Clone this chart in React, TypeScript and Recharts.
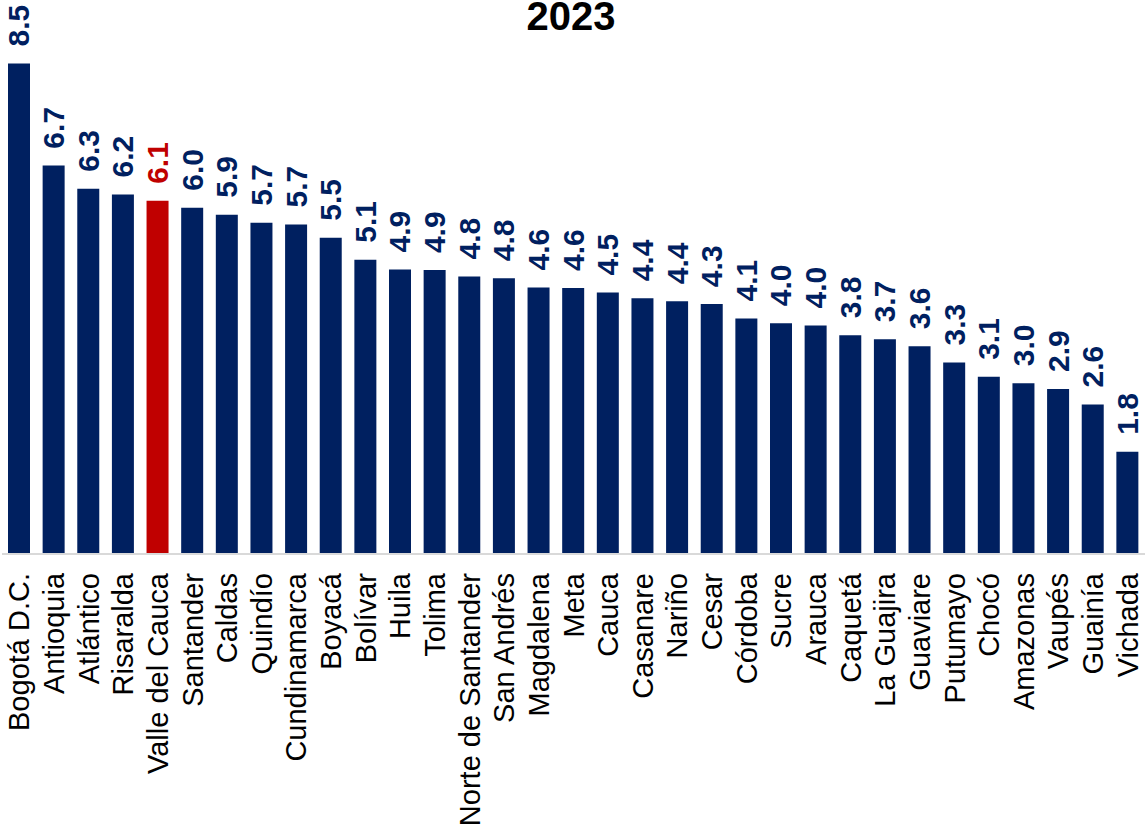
import { Bar, BarChart, Cell, LabelList, XAxis, YAxis } from 'recharts';

const departments = [
  'Bogotá D.C.', 'Antioquia', 'Atlántico', 'Risaralda', 'Valle del Cauca', 'Santander', 'Caldas',
  'Quindío', 'Cundinamarca', 'Boyacá', 'Bolívar', 'Huila', 'Tolima', 'Norte de Santander',
  'San Andrés', 'Magdalena', 'Meta', 'Cauca', 'Casanare', 'Nariño', 'Cesar', 'Córdoba', 'Sucre',
  'Arauca', 'Caquetá', 'La Guajira', 'Guaviare', 'Putumayo', 'Chocó', 'Amazonas', 'Vaupés',
  'Guainía', 'Vichada',
];

// bar heights (labels show them rounded to one decimal)
const values = [
  8.5, 6.73, 6.33, 6.23, 6.12, 6.0, 5.88, 5.74, 5.71, 5.48, 5.1, 4.93, 4.92, 4.81, 4.78, 4.62,
  4.61, 4.53, 4.43, 4.38, 4.33, 4.08, 4.0, 3.96, 3.79, 3.72, 3.6, 3.32, 3.07, 2.96, 2.86, 2.59,
  1.77,
];

const HIGHLIGHT = 'Valle del Cauca';
const NAVY = '#002060';
const RED = '#C00000';
const FONT = '"Liberation Sans", Arial, sans-serif';

const data = departments.map((name, i) => ({ name, value: values[i] }));

function DeptTick(props: any) {
  const { x, y, payload } = props;
  const ty = y + 19;
  return (
    <text
      x={x}
      y={ty}
      transform={`rotate(-90, ${x}, ${ty})`}
      textAnchor="end"
      dominantBaseline="central"
      fontFamily={FONT}
      fontSize={29}
      fill="#000"
    >
      {payload.value}
    </text>
  );
}

function ValueLabel(props: any) {
  const { x, y, width, value, index } = props;
  const cx = x + width / 2;
  const ty = y - 17;
  const isHighlight = departments[index] === HIGHLIGHT;
  return (
    <text
      x={cx}
      y={ty}
      transform={`rotate(-90, ${cx}, ${ty})`}
      textAnchor="start"
      dominantBaseline="central"
      fontFamily={FONT}
      fontSize={30}
      fontWeight="bold"
      fill={isHighlight ? RED : NAVY}
    >
      {Number(value).toFixed(1)}
    </text>
  );
}

export default function App() {
  return (
    <div style={{ position: 'absolute', left: 0, top: 0, width: 1145, height: 832, background: '#fff' }}>
      <BarChart width={1145} height={832} data={data} margin={{ top: 0, right: 0, bottom: 0, left: 2 }}>
        <XAxis
          dataKey="name"
          interval={0}
          height={278}
          tickLine={false}
          tickSize={0}
          tickMargin={0}
          axisLine={{ stroke: '#d9d9d9', strokeWidth: 2 }}
          tick={<DeptTick />}
        />
        <YAxis hide domain={[0, 9.6]} />
        <Bar dataKey="value" barSize={22} isAnimationActive={false}>
          {data.map((d) => (
            <Cell key={d.name} fill={d.name === HIGHLIGHT ? RED : NAVY} />
          ))}
          <LabelList dataKey="value" content={<ValueLabel />} />
        </Bar>
        <text x={571} y={30} textAnchor="middle" fontFamily={FONT} fontSize={40} fontWeight="bold" fill="#000">
          2023
        </text>
      </BarChart>
    </div>
  );
}
